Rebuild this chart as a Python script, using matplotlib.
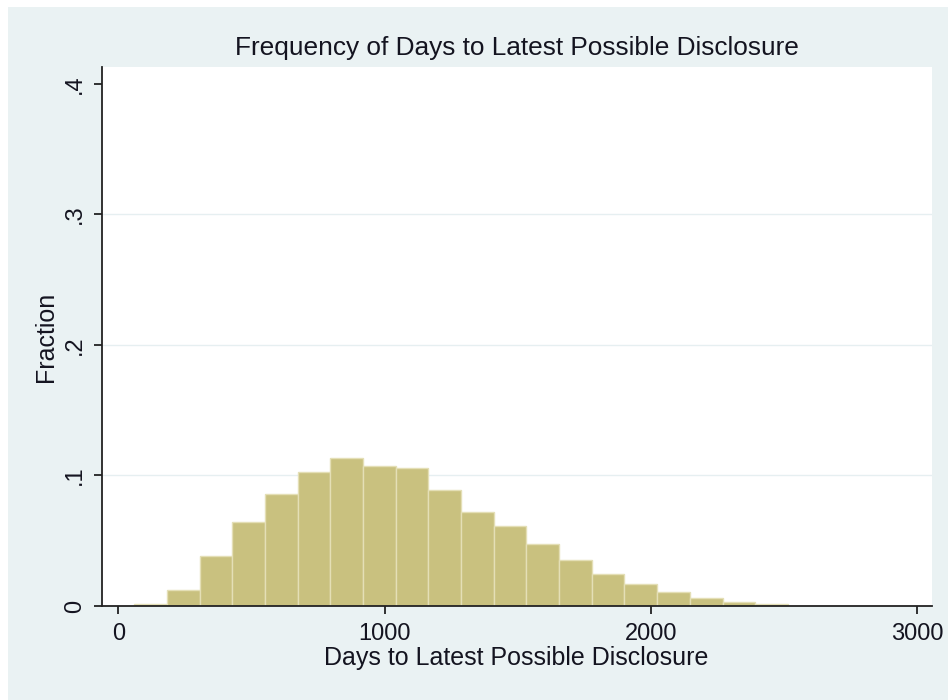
import numpy as np
import matplotlib
matplotlib.use("Agg")
import matplotlib.pyplot as plt

plt.rcParams['font.family'] = ['Liberation Sans', 'DejaVu Sans']

# Data: histogram bins (days) and fractions
bin_start = 60.0
bin_width = 122.7
fractions = [0.0013, 0.012, 0.0383, 0.0644, 0.0862, 0.1025, 0.1135, 0.1074,
             0.1058, 0.0887, 0.0721, 0.0611, 0.0473, 0.035, 0.0243, 0.0166,
             0.0105, 0.0061, 0.0028, 0.0015]
x_ticks = [0, 1000, 2000, 3000]
x_ticklabels = ["0", "1000", "2000", "3000"]
y_ticks = [0, 0.1, 0.2, 0.3, 0.4]
y_ticklabels = ["0", ".1", ".2", ".3", ".4"]
title = "Frequency of Days to Latest Possible Disclosure"
xlabel = "Days to Latest Possible Disclosure"
ylabel = "Fraction"

bg = "#EAF2F3"
bar_color = "#C9C17F"
edge_color = "#E4DFB6"
txt = "#141420"

W, H = 948, 700
fig = plt.figure(figsize=(W / 100, H / 100), dpi=100)
fig.patch.set_facecolor("white")
# Stata-like background panel (white margin at top/left)
bgrect = plt.Rectangle((8 / W, 0), 1 - 8 / W, 1 - 7 / H,
                       transform=fig.transFigure, facecolor=bg,
                       edgecolor='none', zorder=-10)
fig.patches.append(bgrect)

L, R, T, B = 102, 932, 67, 606
ax = fig.add_axes([L / W, 1 - B / H, (R - L) / W, (B - T) / H])
ax.set_facecolor("white")

lefts = bin_start + bin_width * np.arange(len(fractions))
ax.bar(lefts, fractions, width=bin_width, align='edge', color=bar_color,
       edgecolor=edge_color, linewidth=1.0, zorder=2)

ax.set_xlim(-61, 3055)
ax.set_ylim(0, 0.413)

for yv in [0.1, 0.2, 0.3]:
    ax.axhline(yv, color="#E6EFF1", linewidth=1.0, zorder=1)

ax.set_xticks(x_ticks)
ax.set_xticklabels(x_ticklabels)
ax.set_yticks(y_ticks)
ax.set_yticklabels(y_ticklabels, rotation=90, va='center')

for s in ['top', 'right']:
    ax.spines[s].set_visible(False)
for s in ['left', 'bottom']:
    ax.spines[s].set_color("#222222")
    ax.spines[s].set_linewidth(1.3)

ax.tick_params(axis='both', direction='out', length=5.5, width=1.3,
               color="#222222", labelsize=17, labelcolor=txt)
ax.tick_params(axis='x', pad=6.5)
ax.tick_params(axis='y', pad=6)

fig.text(517 / W, 1 - 47.5 / H, title, fontsize=18.9, color=txt,
         ha='center', va='center')
ax.set_xlabel(xlabel, fontsize=18, color=txt)
ax.xaxis.set_label_coords((516 - L) / (R - L), (B - 657.5) / (B - T))
ax.xaxis.label.set_va('center')
ax.set_ylabel(ylabel, fontsize=18, color=txt)
ax.yaxis.set_label_coords((46 - L) / (R - L), (B - 337) / (B - T))
ax.yaxis.label.set_va('center')
ax.yaxis.label.set_ha('center')

fig.savefig("out.png", dpi=100, facecolor=fig.get_facecolor())
